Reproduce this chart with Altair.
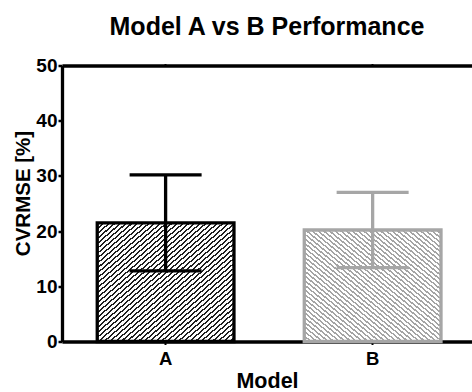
import altair as alt
import pandas as pd

# ---- data ----
models = ["A", "B"]
means = [21.5, 20.2]
errors = [8.7, 6.8]

df = pd.DataFrame({"model": models, "mean": means, "err": errors})

FONT = "Liberation Sans"


def stripes(dark, light, n, frac, x1, y1, x2, y2):
    stops = []
    for i in range(n):
        a = i / n
        b = (i + frac) / n
        c = (i + 1) / n
        stops += [
            alt.GradientStop(color=dark, offset=a),
            alt.GradientStop(color=dark, offset=b),
            alt.GradientStop(color=light, offset=b),
            alt.GradientStop(color=light, offset=c),
        ]
    return alt.LinearGradient(gradient="linear", stops=stops, x1=x1, y1=y1, x2=x2, y2=y2)


gradA = stripes("#202020", "#ffffff", 48, 0.38, 0, 0, 1, 1)
gradB = stripes("#a4a4a4", "#ffffff", 48, 0.42, 0, 1, 1, 0)

xscale = alt.Scale(domain=models, paddingInner=0.3396, paddingOuter=0.16, align=0.532)
yscale = alt.Scale(domain=[0, 50], nice=False, zero=True)

xaxis = alt.Axis(
    orient="bottom", title="Model", labelAngle=0, labelFont=FONT, labelFontSize=18.5,
    labelFontWeight="bold", labelColor="black", labelPadding=5, tickSize=3, tickWidth=2,
    tickColor="black", domainColor="black", domainWidth=3.3, titleFont=FONT,
    titleFontSize=21.5, titleFontWeight="bold", titleColor="black",
    titleBaseline="alphabetic", titleY=46, grid=False,
)

yaxis = alt.Axis(
    orient="left", title="CVRMSE [%]", values=[0, 5, 10, 15, 20, 25, 30, 35, 40, 45, 50],
    labelExpr="datum.value % 10 == 0 ? datum.label : ''",
    labelFont=FONT, labelFontSize=19, labelFontWeight="bold", labelColor="black",
    labelPadding=1,
    tickSize={"condition": {"test": "datum.value % 10 != 0", "value": 2}, "value": 4},
    tickWidth=2.5, tickColor="black", domainColor="black", domainWidth=3.3,
    titleFont=FONT, titleFontSize=20.5, titleFontWeight="bold", titleColor="black",
    titleAngle=-90, titleBaseline="alphabetic", titleAlign="center",
    titleX=-33, titleY=127.5, grid=False,
)

topaxis = alt.Axis(
    orient="top", title=None, labels=False, tickSize=2, tickWidth=2, tickColor="black",
    domainColor="black", domainWidth=3.5, grid=False,
)

base = alt.Chart(df)
X = alt.X("model:N", scale=xscale, axis=xaxis)
Y = alt.Y("mean:Q", scale=yscale, axis=yaxis)
C = alt.Color("model:N", scale=alt.Scale(domain=models, range=["black", "#a6a6a6"]), legend=None)

barA = base.transform_filter("datum.model == 'A'").mark_bar(
    fill=gradA, stroke="black", strokeWidth=3.3
).encode(x=X, y=Y)
barB = base.transform_filter("datum.model == 'B'").mark_bar(
    fill=gradB, stroke="#a6a6a6", strokeWidth=3.3
).encode(x=X, y=Y)

ebase = base.transform_calculate(lo="datum.mean - datum.err", hi="datum.mean + datum.err")
rule = ebase.mark_rule(strokeWidth=3.3).encode(
    x=X, y=alt.Y("lo:Q", scale=yscale), y2="hi:Q", color=C
)
capLo = ebase.mark_tick(size=72, thickness=3.3, opacity=1).encode(
    x=X, y=alt.Y("lo:Q", scale=yscale), color=C
)
capHi = ebase.mark_tick(size=72, thickness=3.3, opacity=1).encode(
    x=X, y=alt.Y("hi:Q", scale=yscale), color=C
)

inner = alt.layer(barA, barB, rule, capLo, capHi)

top = base.mark_tick(opacity=0).encode(x=alt.X("model:N", scale=xscale, axis=topaxis))

chart = alt.layer(inner, top).resolve_scale(x="independent").properties(
    width=410, height=276,
    autosize=alt.AutoSizeParams(type="none"),
    padding={"left": 62, "top": 65.5, "right": 0, "bottom": 50.5},
    title=alt.TitleParams(
        "Model A vs B Performance", font=FONT, fontSize=25, fontWeight="bold",
        color="black", anchor="middle", baseline="alphabetic", offset=28, dy=31,
    ),
).configure_view(stroke=None)

chart.save("out.html", embed_options={"renderer": "svg", "actions": False})
